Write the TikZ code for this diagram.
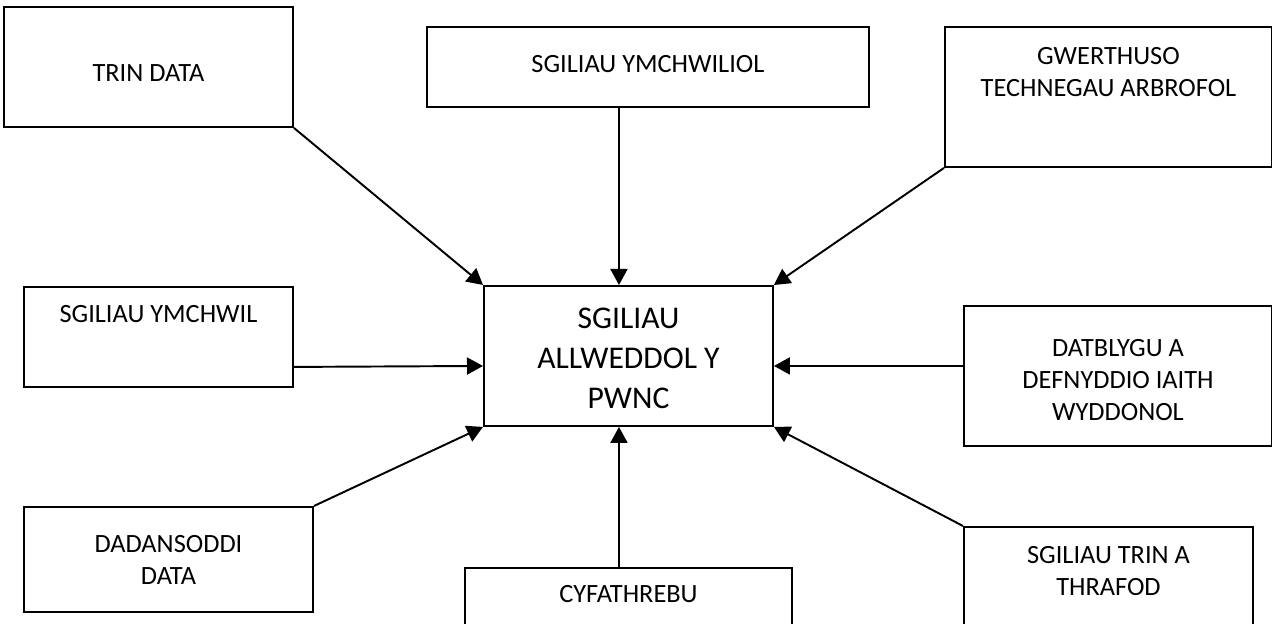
\documentclass[tikz,border=0pt]{standalone}
\usepackage{fontspec}
\setmainfont{Carlito}
\usetikzlibrary{arrows.meta, positioning}
\newlength{\px}
\setlength{\px}{0.02cm}
% width, height, space above the first line, text
\newcommand{\boxtext}[4]{\parbox[c][#2][t]{#1}{\vspace*{#3}\centering #4}}

\begin{document}
\begin{tikzpicture}[
x=1\px, y=-1\px,
every node/.style={
    rectangle,
    draw,
    line width=1.1pt,
    inner sep=0pt,
    anchor=north west,
    font=\fontsize{15}{18.2}\selectfont,
    },
every edge/.style={
    draw,
    line width=1.1pt,
    -{Triangle[length=0.32cm,width=0.34cm]},
    },
]
\useasboundingbox (0,0) rectangle (1272,624);
\node (P) at (483,285) [font=\fontsize{18}{22.8}\selectfont]
      {\boxtext{289\px}{140\px}{22\px}{SGILIAU\\ ALLWEDDOL Y\\ PWNC}};
\node (TD) at (3,6) {\boxtext{289\px}{120\px}{58\px}{TRIN DATA}};
\node (SYL) at (426,26) {\boxtext{442\px}{80\px}{28\px}{SGILIAU YMCHWILIOL}};
\node (GT) at (944,26)
      {\boxtext{327\px}{140\px}{20\px}{GWERTHUSO\\ TECHNEGAU ARBROFOL}};
\node (SY) at (23,286) {\boxtext{269\px}{100\px}{18\px}{SGILIAU YMCHWIL}};
\node (DI) at (963,305)
      {\boxtext{308\px}{140\px}{33\px}{DATBLYGU A\\ DEFNYDDIO IAITH\\ WYDDONOL}};
\node (DD) at (23,506) {\boxtext{289\px}{105\px}{28\px}{DADANSODDI\\ DATA}};
\node (CY) at (464,567) {\boxtext{327\px}{80\px}{17\px}{CYFATHREBU}};
\node (ST) at (963,526)
      {\boxtext{289\px}{120\px}{19\px}{SGILIAU TRIN A\\ THRAFOD}};
\path (TD.south east) edge (P.north west)
      ([xshift=-29\px]SYL.south) edge ([xshift=-9.5\px]P.north)
      (GT.south west) edge (P.north east)
      ([yshift=21\px]SY.south east) edge ([yshift=-10\px]P.west)
      ([yshift=10\px]DI.west) edge ([yshift=-10\px]P.east)
      (DD.north east) edge (P.south west)
      ([xshift=-9.5\px]CY.north) edge ([xshift=-9.5\px]P.south)
      (ST.north west) edge (P.south east);
\end{tikzpicture}
\end{document}
